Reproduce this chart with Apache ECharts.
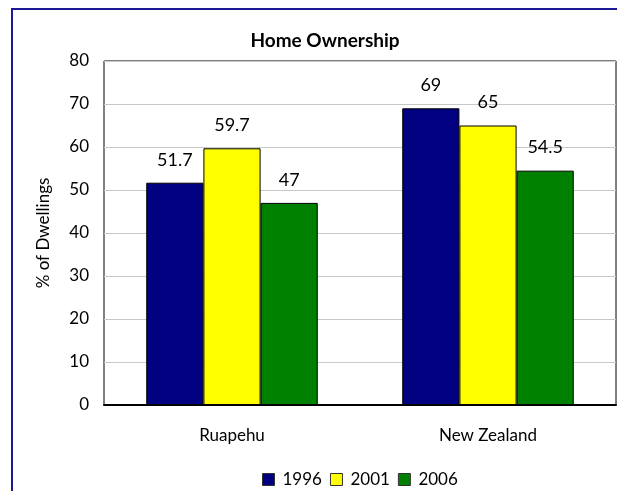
<!DOCTYPE html>
<html>
<head>
<meta charset="utf-8">
<script src="https://cdn.jsdelivr.net/npm/echarts@6/dist/echarts.min.js"></script>
<style>
  html,body{margin:0;padding:0;background:#fff;}
  #chart{width:617px;height:491px;}
</style>
</head>
<body>
<div id="chart"></div>
<script>
// data
const categories = ["Ruapehu", "New Zealand"];
const years = ["1996", "2001", "2006"];
const values1996 = [51.7, 69];
const values2001 = [59.7, 65];
const values2006 = [47, 54.5];
const yTicks = [0, 10, 20, 30, 40, 50, 60, 70, 80];

const colors = ["#000080", "#ffff00", "#008000"];
const font = "Lato";

const chart = echarts.init(document.getElementById("chart"));

function barSeries(name, data, color) {
    return {
        name: name,
        type: "bar",
        data: data,
        barGap: "0%",
        barCategoryGap: "33%",
        itemStyle: {color: color, borderColor: "#000", borderWidth: 1},
        label: {
            show: true,
            position: "top",
            distance: 14,
            color: "#000",
            fontFamily: font,
            fontSize: 18
        }
    };
}

const option = {
    animation: false,
    title: {
        text: "Home Ownership",
        left: 320,
        top: 26,
        textAlign: "center",
        textStyle: {fontFamily: font, fontWeight: "bold", fontSize: 19, color: "#000"}
    },
    grid: {
        left: 104,
        top: 61,
        width: 512,
        height: 344,
        show: true,
        borderColor: "#000",
        borderWidth: 1,
        backgroundColor: "#fff"
    },
    legend: {
        data: years,
        top: 466,
        left: 257,
        itemWidth: 12,
        itemHeight: 12,
        itemGap: 8,
        icon: "rect",
        itemStyle: {borderColor: "#333", borderWidth: 1},
        textStyle: {fontFamily: font, fontSize: 17, color: "#000", padding: [0, 0, 0, 3]}
    },
    xAxis: {
        type: "category",
        data: categories,
        axisLine: {lineStyle: {color: "#000", width: 2}},
        axisTick: {show: false},
        axisLabel: {fontFamily: font, fontSize: 17, color: "#000", margin: 22}
    },
    yAxis: {
        type: "value",
        min: yTicks[0],
        max: yTicks[yTicks.length - 1],
        interval: 10,
        name: "% of Dwellings",
        nameLocation: "middle",
        nameGap: 52,
        nameTextStyle: {fontFamily: font, fontSize: 17, color: "#000"},
        axisLine: {show: false},
        axisTick: {show: false},
        axisLabel: {fontFamily: font, fontSize: 17, color: "#000", margin: 15},
        splitLine: {lineStyle: {color: "#c8c8c8", width: 1}}
    },
    graphic: [{
        type: "rect",
        shape: {x: 12, y: 9, width: 700, height: 600},
        style: {fill: null, stroke: "#1a1a96", lineWidth: 2},
        silent: true
    }],
    series: [
        barSeries(years[0], values1996, colors[0]),
        barSeries(years[1], values2001, colors[1]),
        barSeries(years[2], values2006, colors[2])
    ]
};

chart.setOption(option);
</script>
</body>
</html>
